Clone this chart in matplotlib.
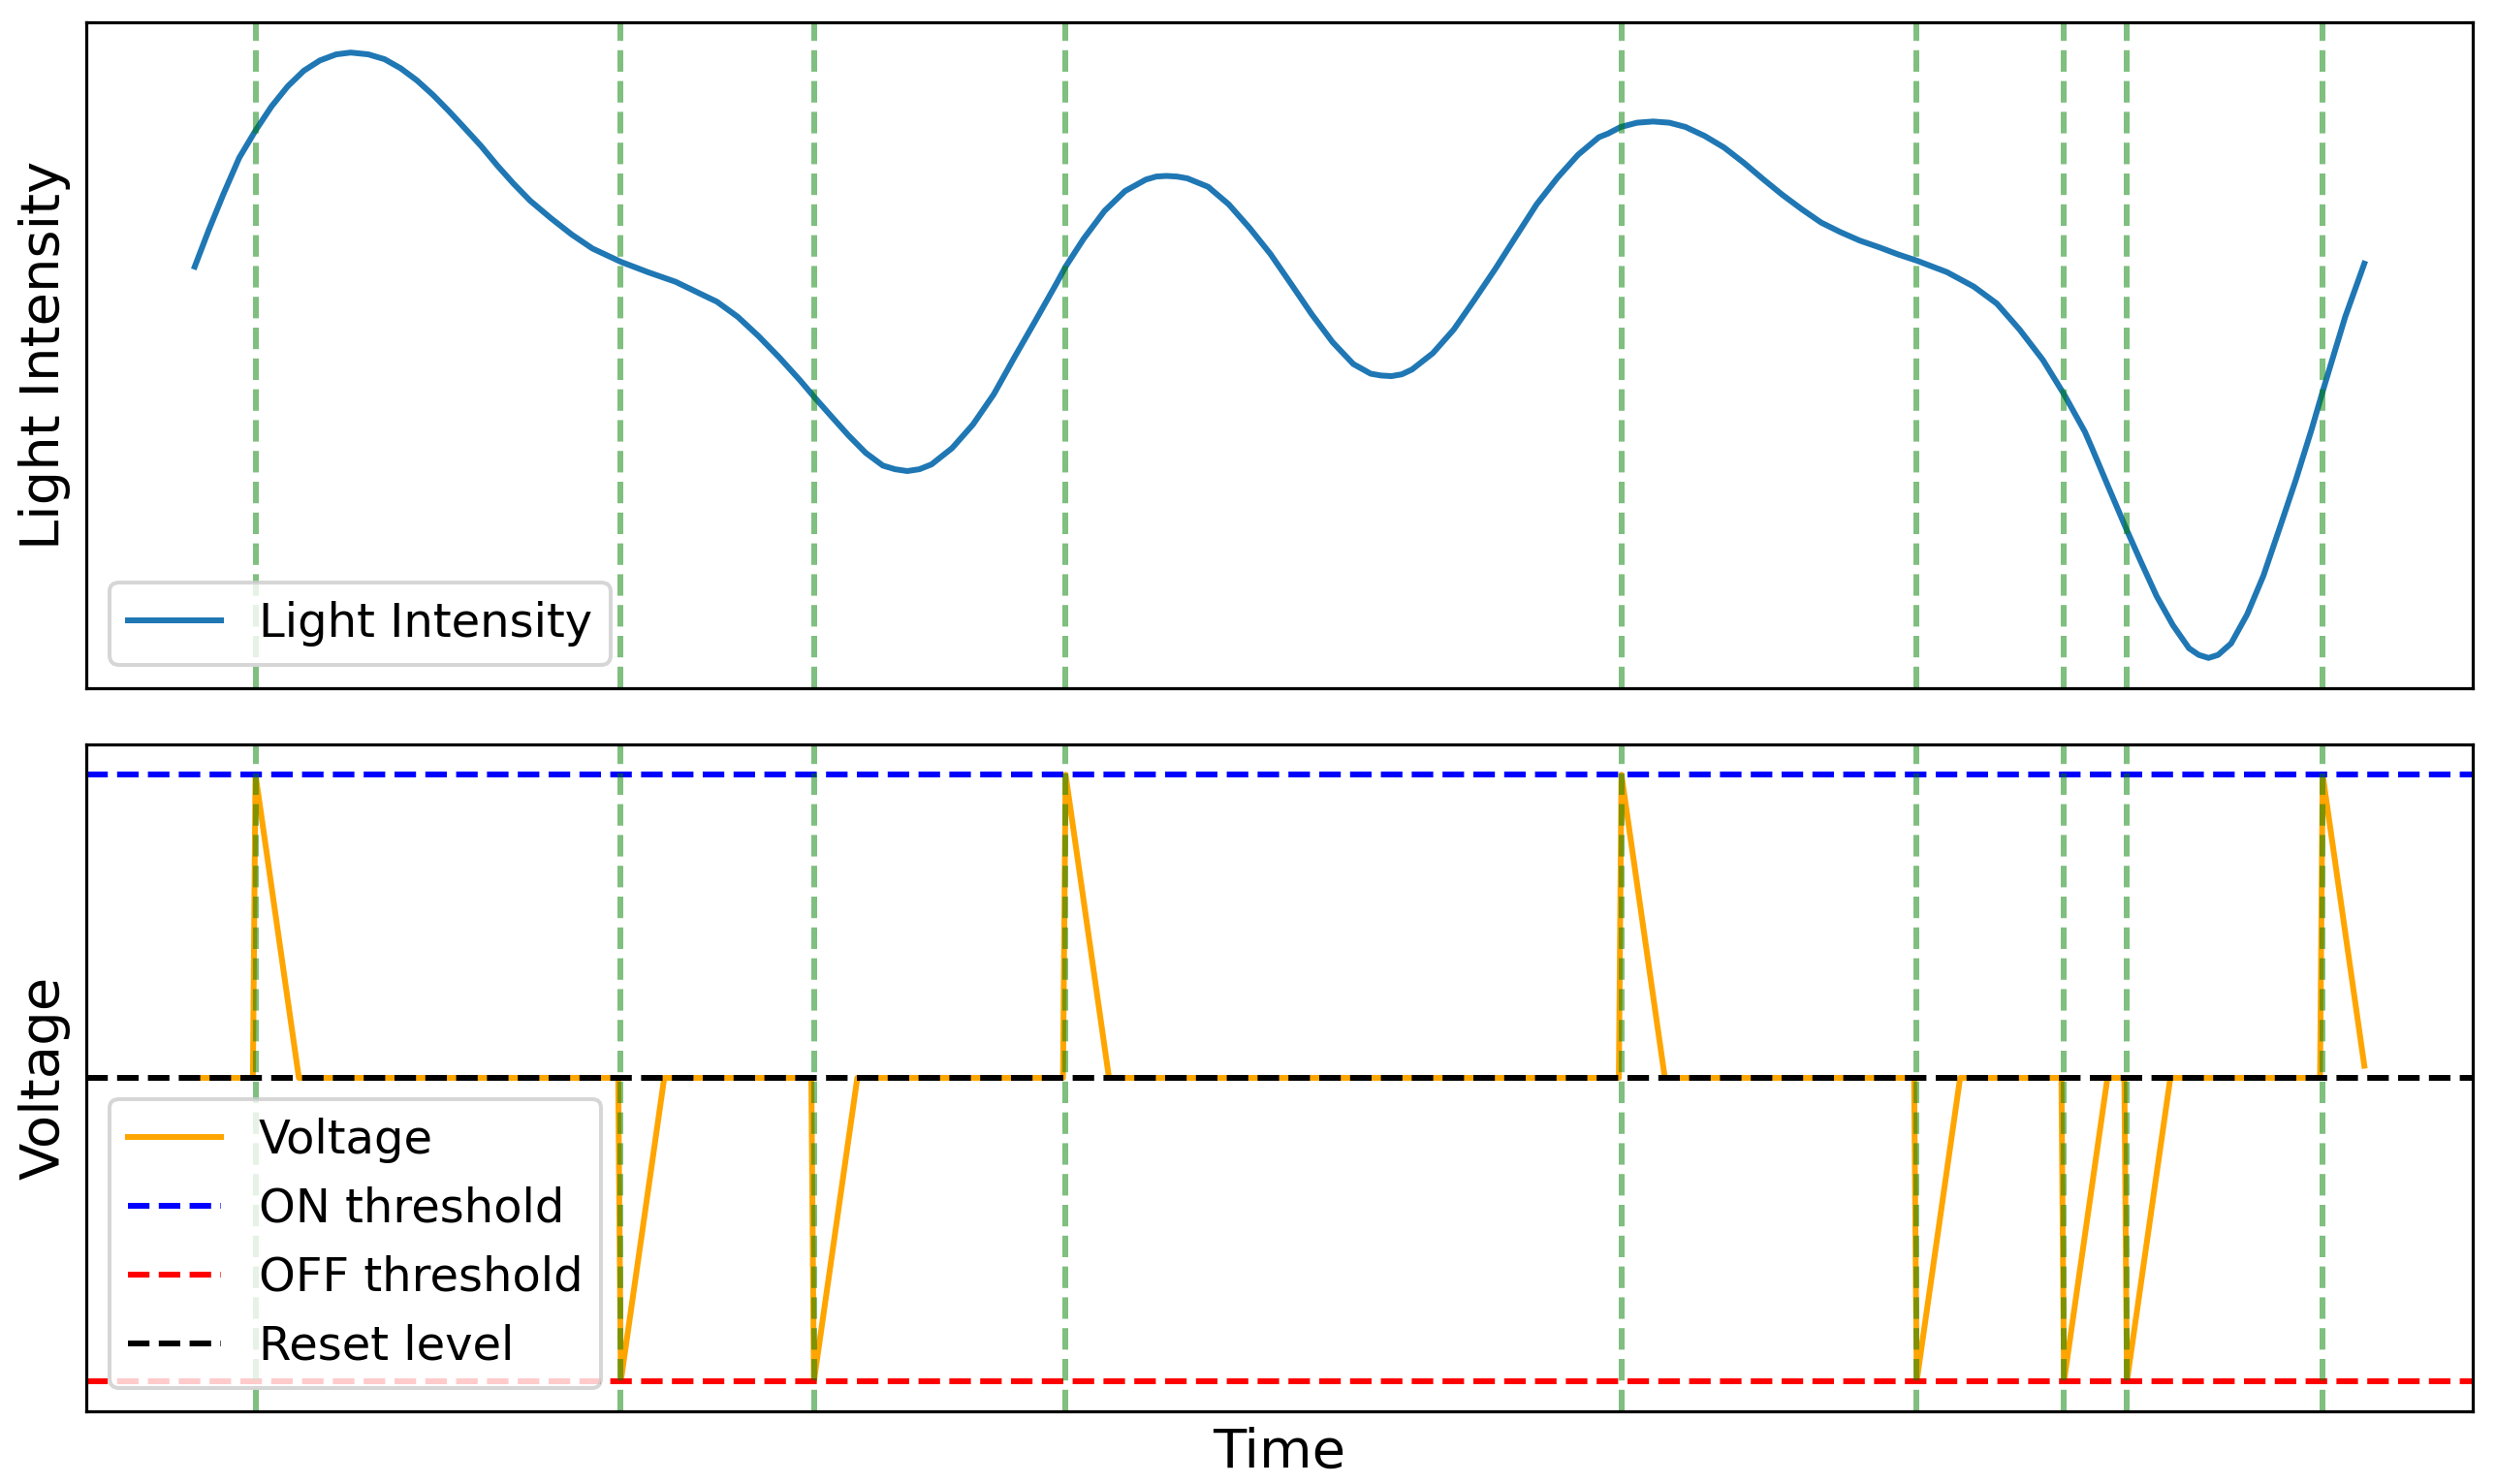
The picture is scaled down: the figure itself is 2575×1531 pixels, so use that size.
import matplotlib
matplotlib.use("Agg")
import matplotlib.pyplot as plt

# ---- data ----
time_points = [
    0.000, 0.064, 0.131, 0.205, 0.280, 0.354, 0.428, 0.503, 0.577, 0.652,
    0.719, 0.800, 0.875, 0.949, 1.024, 1.098, 1.172, 1.247, 1.321, 1.395,
    1.470, 1.546, 1.642, 1.738, 1.833, 1.964, 2.088, 2.216, 2.343, 2.407,
    2.503, 2.599, 2.694, 2.790, 2.854, 2.933, 3.013, 3.093, 3.172, 3.228,
    3.284, 3.340, 3.396, 3.491, 3.587, 3.683, 3.778, 3.874, 3.970, 4.014,
    4.097, 4.193, 4.288, 4.384, 4.432, 4.479, 4.527, 4.575, 4.671, 4.766,
    4.862, 4.958, 5.054, 5.149, 5.245, 5.340, 5.420, 5.468, 5.516, 5.564,
    5.611, 5.707, 5.803, 5.898, 5.994, 6.090, 6.185, 6.281, 6.376, 6.472,
    6.514, 6.573, 6.648, 6.722, 6.797, 6.871, 6.960, 7.049, 7.139, 7.228,
    7.317, 7.407, 7.496, 7.586, 7.675, 7.764, 7.853, 7.937, 8.076, 8.200,
    8.306, 8.411, 8.518, 8.616, 8.712, 8.746, 8.820, 8.902, 8.969, 9.043,
    9.118, 9.192, 9.237, 9.282, 9.326, 9.386, 9.460, 9.535, 9.609, 9.684,
    9.758, 9.810, 9.912, 10.000,
]
light_intensity = [
    0.645, 0.705, 0.764, 0.825, 0.870, 0.910, 0.943, 0.969, 0.986, 0.996,
    0.999, 0.996, 0.988, 0.973, 0.953, 0.929, 0.902, 0.873, 0.844, 0.812,
    0.782, 0.754, 0.725, 0.698, 0.675, 0.653, 0.636, 0.620, 0.598, 0.587,
    0.562, 0.530, 0.495, 0.457, 0.430, 0.398, 0.366, 0.337, 0.316, 0.310,
    0.307, 0.310, 0.318, 0.345, 0.384, 0.434, 0.495, 0.555, 0.616, 0.645,
    0.691, 0.737, 0.770, 0.789, 0.794, 0.795, 0.794, 0.791, 0.777, 0.748,
    0.709, 0.666, 0.616, 0.566, 0.520, 0.484, 0.468, 0.465, 0.464, 0.467,
    0.475, 0.502, 0.541, 0.590, 0.641, 0.695, 0.748, 0.792, 0.830, 0.859,
    0.865, 0.876, 0.883, 0.885, 0.883, 0.876, 0.861, 0.842, 0.817, 0.790,
    0.764, 0.740, 0.718, 0.702, 0.688, 0.677, 0.665, 0.655, 0.636, 0.612,
    0.584, 0.541, 0.491, 0.434, 0.372, 0.344, 0.281, 0.212, 0.158, 0.100,
    0.052, 0.014, 0.003, -0.002, 0.003, 0.022, 0.070, 0.134, 0.212, 0.292,
    0.377, 0.441, 0.562, 0.650,
]
event_times = [0.280, 1.964, 2.854, 4.014, 6.576, 7.937, 8.616, 8.906, 9.808]
event_polarity = [1, -1, -1, 1, 1, -1, -1, -1, 1]   # +1 = ON, -1 = OFF
on_threshold = 1.0
off_threshold = -1.0
reset_level = 0.0
decay_time = 0.2
rise_time = 0.012
t_start = 0.0
t_end = 10.0

# ---- voltage trace built from the events ----
volt_t = [t_start]
volt_v = [reset_level]
for te, p in zip(event_times, event_polarity):
    peak = on_threshold if p > 0 else off_threshold
    volt_t += [te - rise_time, te]
    volt_v += [reset_level, peak]
    t_back = min(te + decay_time, t_end)
    frac = (t_back - te) / decay_time
    volt_t.append(t_back)
    volt_v.append(peak + (reset_level - peak) * frac)
if volt_t[-1] < t_end:
    volt_t.append(t_end)
    volt_v.append(reset_level)

# ---- figure ----
DPI = 288
fig = plt.figure(figsize=(2575 / DPI, 1531 / DPI), dpi=DPI)
ax1 = fig.add_axes([0.03456, 0.53625, 0.95614, 0.44873])
ax2 = fig.add_axes([0.03456, 0.04899, 0.95614, 0.44938], sharex=ax1)

ax1.plot(time_points, light_intensity, color="#1f77b4", lw=1.5, label="Light Intensity")
for te in event_times:
    ax1.axvline(te, color="green", linestyle="--", alpha=0.5, lw=1.5)
ax1.set_ylabel("Light Intensity", fontsize=14)
ax1.legend(loc="lower left", fontsize=12)
ax1.set_xticks([])
ax1.set_yticks([])

ax2.plot(volt_t, volt_v, color="orange", lw=1.5, label="Voltage")
ax2.axhline(on_threshold, color="b", linestyle="--", lw=1.5, label="ON threshold")
ax2.axhline(off_threshold, color="r", linestyle="--", lw=1.5, label="OFF threshold")
ax2.axhline(reset_level, color="k", linestyle="--", lw=1.5, label="Reset level")
for te in event_times:
    ax2.axvline(te, color="green", linestyle="--", alpha=0.5, lw=1.5)
ax2.set_ylabel("Voltage", fontsize=14)
ax2.set_xlabel("Time", fontsize=14)
ax2.legend(loc="lower left", fontsize=12)
ax2.set_xticks([])
ax2.set_yticks([])

fig.savefig("out.png", dpi=DPI)
